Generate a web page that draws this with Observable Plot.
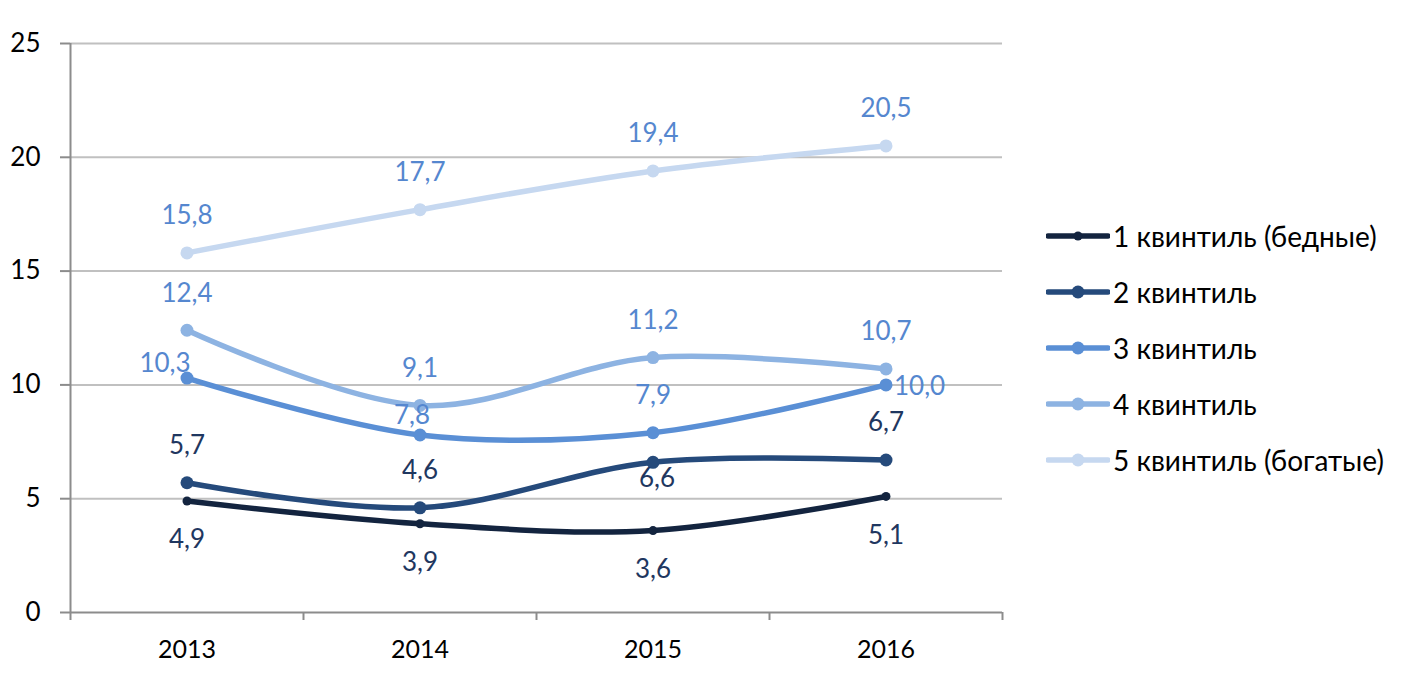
<!DOCTYPE html>
<html>
<head>
<meta charset="utf-8">
<script src="https://cdn.jsdelivr.net/npm/d3@7"></script>
<script src="https://cdn.jsdelivr.net/npm/@observablehq/plot@0.6"></script>
<style>
  html, body { margin: 0; padding: 0; background: #fff; }
  #wrap { position: relative; width: 1410px; height: 676px; font-family: Lato, "Open Sans", sans-serif; }
  #legend { position: absolute; left: 1046px; top: 208px; }
  .row { display: flex; align-items: center; height: 56px; font-size: 28px; color: #000; }
  .row svg { margin-right: 3px; }
</style>
</head>
<body>
<div id="wrap"><div id="legend"></div></div>
<script>
// ---- data ----
const years = [2013, 2014, 2015, 2016];
const seriesNames = ["1 квинтиль (бедные)", "2 квинтиль", "3 квинтиль", "4 квинтиль", "5 квинтиль (богатые)"];
const q1 = [4.9, 3.9, 3.6, 5.1];
const q2 = [5.7, 4.6, 6.6, 6.7];
const q3 = [10.3, 7.8, 7.9, 10.0];
const q4 = [12.4, 9.1, 11.2, 10.7];
const q5 = [15.8, 17.7, 19.4, 20.5];
const yTicks = [0, 5, 10, 15, 20, 25];

// ---- styles ----
const lineColors = ["#13243f", "#254a7b", "#5a8fd5", "#8db3e2", "#c6d8f0"];
const labelColors = ["#1f3760", "#1f3760", "#5587cf", "#5587cf", "#5587cf"];
const values = [q1, q2, q3, q4, q5];

const data = [];
values.forEach((arr, si) => arr.forEach((v, i) => data.push({series: seriesNames[si], si, year: years[i], value: v})));

// label placement: [dx, dy, anchor]
const above = [0, -37, "middle"], below = [0, 39, "middle"];
const special = {
  "2-2013": [-22, -14, "middle"],
  "2-2014": [-8, -19, "middle"],
  "2-2016": [8, 2, "start"],
  "1-2015": [4, 16, "middle"]
};
function placement(d) {
  const k = d.si + "-" + d.year;
  if (special[k]) return special[k];
  return d.si === 0 ? below : above;
}
const groups = d3.groups(data, d => placement(d).join("|"));
const fmt = v => v.toFixed(1).replace(".", ",");

const bounds = [2012.5, 2013.5, 2014.5, 2015.5, 2016.5];

const chart = Plot.plot({
  width: 1410,
  height: 676,
  marginLeft: 70,
  marginRight: 408,
  marginTop: 43,
  marginBottom: 64,
  style: {fontFamily: "Lato, 'Open Sans', sans-serif", background: "transparent", overflow: "visible"},
  x: {type: "linear", domain: [2012.5, 2016.5]},
  y: {domain: [0, 25]},
  color: {domain: seriesNames, range: lineColors},
  marks: [
    Plot.gridY(yTicks.filter(t => t > 0), {stroke: "#c0c0c0", strokeOpacity: 1, strokeWidth: 2}),
    Plot.ruleY([0], {stroke: "#8c8c8c", strokeWidth: 2}),
    Plot.ruleX([2012.5], {stroke: "#8c8c8c", strokeWidth: 2}),
    Plot.axisY(yTicks, {anchor: "left", tickSize: 10, tickPadding: 20, stroke: "#8c8c8c", strokeWidth: 2, fill: "#000", fontSize: 26, label: null, tickFormat: d => String(d)}),
    Plot.axisX(bounds, {anchor: "bottom", tickSize: 8, stroke: "#8c8c8c", strokeWidth: 2, tickFormat: () => "", label: null}),
    Plot.axisX(years, {anchor: "bottom", tickSize: 0, tickPadding: 28, fill: "#000", fontSize: 25, label: null, tickFormat: d => String(d)}),
    Plot.line(data, {x: "year", y: "value", z: "series", stroke: "series", strokeWidth: 5.5, curve: "catmull-rom"}),
    Plot.dot(data.filter(d => d.si === 0), {x: "year", y: "value", fill: "series", r: 4.5}),
    Plot.dot(data.filter(d => d.si > 0), {x: "year", y: "value", fill: "series", r: 6.5}),
    ...groups.map(([key, arr]) => {
      const [dx, dy, anchor] = placement(arr[0]);
      return Plot.text(arr, {x: "year", y: "value", text: d => fmt(d.value), dx, dy, textAnchor: anchor, fill: d => labelColors[d.si], fontSize: 26});
    })
  ]
});
document.getElementById("wrap").prepend(chart);

// ---- legend (HTML) ----
const legend = document.getElementById("legend");
seriesNames.forEach((name, i) => {
  const row = document.createElement("div");
  row.className = "row";
  const r = i === 0 ? 4.5 : 6.5;
  row.innerHTML = `<svg width="64" height="20"><line x1="2" x2="62" y1="10" y2="10" stroke="${lineColors[i]}" stroke-width="5.5" stroke-linecap="round"/><circle cx="32" cy="10" r="${r}" fill="${lineColors[i]}"/></svg><span>${name}</span>`;
  legend.appendChild(row);
});
</script>
</body>
</html>
